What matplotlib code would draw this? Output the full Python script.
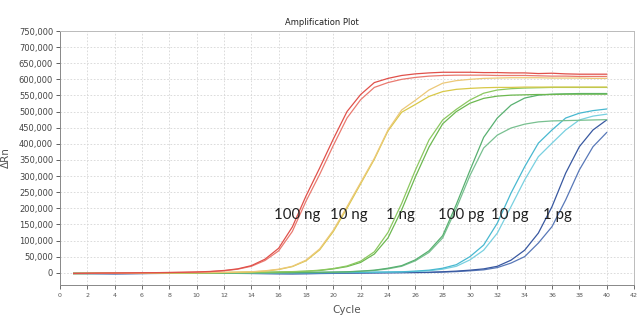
import numpy as np
import matplotlib
matplotlib.use("Agg")
import matplotlib.pyplot as plt
from matplotlib.ticker import FuncFormatter, MultipleLocator

# cycles and delta Rn (in thousands) for each well
cycles = np.arange(1, 41)

red_a = [-2, -1.5, -1, -0.8, -0.5, 0, 0.3, 0.8, 1.5, 2.5, 4, 7, 12, 22, 42, 76, 142, 238, 325, 415,
         500, 553, 590, 603, 612, 617, 620, 622, 622, 622, 621, 621, 620, 620, 618, 619, 617, 616, 616, 616]
red_b = [-2.5, -2, -1.5, -1, -0.6, -0.2, 0.2, 0.6, 1.2, 2, 3.5, 6, 11, 20, 38, 68, 128, 222, 305, 395,
         480, 537, 575, 590, 600, 606, 610, 612, 613, 613, 613, 612, 612, 612, 611, 610, 610, 609, 609, 609]
yel_a = [-2, -1.8, -1.5, -1.2, -1, -0.7, -0.5, -0.2, 0, 0.3, 0.7, 1.2, 2, 3, 6, 11, 20, 39, 74, 132,
         205, 280, 355, 443, 505, 535, 567, 588, 596, 600, 603, 604, 605, 605, 605, 604, 604, 604, 603, 603]
yel_b = [-2.5, -2.2, -1.8, -1.5, -1.2, -1, -0.7, -0.4, -0.2, 0, 0.4, 0.9, 1.6, 2.6, 5, 10, 19, 37, 71, 128,
         200, 276, 352, 440, 498, 522, 547, 562, 569, 572, 574, 575, 575, 576, 576, 576, 576, 576, 576, 576]
grn_a = [-2, -1.8, -1.6, -1.4, -1.2, -1, -0.8, -0.6, -0.4, -0.2, 0, 0.3, 0.6, 1, 1.5, 2.5, 3.5, 5, 8, 13,
         21, 36, 65, 125, 215, 318, 412, 474, 507, 536, 557, 567, 571, 573, 574, 575, 575, 575, 575, 575]
grn_b = [-2.5, -2.3, -2, -1.8, -1.5, -1.3, -1, -0.8, -0.6, -0.4, -0.2, 0, 0.3, 0.7, 1.2, 2, 3, 4.5, 7, 12,
         19, 32, 58, 108, 195, 297, 390, 462, 500, 526, 541, 548, 551, 552, 553, 553, 554, 554, 554, 554]
mgr_a = [-2, -2, -1.8, -1.6, -1.5, -1.3, -1.1, -1, -0.8, -0.6, -0.5, -0.3, -0.1, 0, 0.2, 0.4, 0.7, 1, 1.5, 2,
         3, 5, 8, 14, 22, 40, 68, 115, 212, 318, 420, 480, 520, 542, 551, 554, 555, 556, 556, 556]
mgr_b = [-2.5, -2.3, -2.1, -1.9, -1.7, -1.5, -1.3, -1.1, -0.9, -0.8, -0.6, -0.4, -0.2, -0.1, 0, 0.2, 0.5, 0.8, 1.2, 1.8,
         2.6, 4.5, 7, 12, 20, 37, 63, 108, 200, 302, 387, 427, 449, 461, 468, 471, 472, 473, 474, 475]
cyn_a = [-2, -2, -1.9, -1.8, -1.7, -1.5, -1.4, -1.2, -1.1, -1, -0.9, -0.8, -0.6, -0.5, -0.3, -0.2, 0, 0.2, 0.4, 0.6,
         0.9, 1.3, 1.8, 2.4, 3, 5, 8, 14, 25, 50, 86, 154, 247, 329, 402, 443, 480, 495, 503, 508]
cyn_b = [-2.5, -2.4, -2.3, -2.1, -2, -1.8, -1.6, -1.5, -1.3, -1.2, -1, -0.9, -0.8, -0.6, -0.5, -0.3, -0.1, 0, 0.2, 0.4,
         0.7, 1, 1.5, 2, 2.8, 4, 6, 11, 20, 40, 70, 123, 205, 288, 360, 402, 443, 474, 486, 492]
blu_a = [-2, -2.3, -2.6, -3, -2.6, -2.2, -1.8, -1.5, -1.2, -1, -1, -1.2, -1.6, -2, -2.4, -2.8, -3, -2.6, -2, -1.4,
         -0.8, -0.3, 0, 0.4, 0.8, 1, 1.5, 3, 5, 8, 12, 20, 39, 70, 123, 205, 309, 391, 443, 474]
blu_b = [-2.5, -2.8, -3.2, -3.5, -3.1, -2.7, -2.3, -1.9, -1.6, -1.4, -1.4, -1.6, -2, -2.4, -2.8, -3.2, -3.5, -3.1, -2.5, -2,
         -1.4, -1, -0.6, -0.3, 0, 0.4, 0.8, 2, 3.5, 6, 9, 16, 30, 50, 92, 143, 226, 319, 391, 435]

wells = [
    (blu_b, '#5878b8'), (blu_a, '#3858a0'),
    (cyn_b, '#78d0e0'), (cyn_a, '#48b8d0'),
    (mgr_b, '#78c090'), (mgr_a, '#58b070'),
    (grn_b, '#6cb850'), (grn_a, '#8cc860'),
    (yel_b, '#d8c848'), (yel_a, '#ecc878'),
    (red_b, '#ea7a70'), (red_a, '#e0504a'),
]

labels = ['100 ng', '10 ng', '1 ng', '100 pg', '10 pg', '1 pg']
label_x = [17.35, 21.1, 24.9, 29.35, 32.9, 36.4]
label_y = 166000

fig = plt.figure(figsize=(6.43, 3.26), dpi=100)
ax = fig.add_axes([0.0933, 0.1258, 0.8927, 0.7791])

for vals, col in wells:
    ax.plot(cycles, np.array(vals) * 1000, color=col, lw=0.9)

for lab, lx in zip(labels, label_x):
    ax.text(lx, label_y, lab, ha='center', va='baseline', fontsize=10.8,
            family='Lato', color='#222222')

ax.set_xlim(0, 42)
ax.set_ylim(-38000, 750000)
ax.xaxis.set_major_locator(MultipleLocator(2))
ax.yaxis.set_major_locator(MultipleLocator(50000))
ax.yaxis.set_major_formatter(FuncFormatter(lambda v, p: f'{int(v):,}'))
ax.tick_params(axis='x', labelsize=4.5, colors='#555555', length=3, width=0.6, pad=3)
ax.tick_params(axis='y', labelsize=6, colors='#444444', length=3, width=0.6, pad=2)

ax.grid(True, color='#d6d6d6', linestyle=(0, (2, 2)), lw=0.6)
ax.set_axisbelow(True)
for s in ['left', 'bottom']:
    ax.spines[s].set_color('#888888')
    ax.spines[s].set_linewidth(0.7)
for s in ['top', 'right']:
    ax.spines[s].set_color('#bbbbbb')
    ax.spines[s].set_linewidth(0.7)

ax.set_xlabel('Cycle', fontsize=7.5, color='#555555', labelpad=5)
ax.set_ylabel('ΔRn', fontsize=7.5, color='#555555', labelpad=6)
fig.text(0.5, 0.93, 'Amplification Plot', ha='center', va='center', fontsize=6, color='#222222')

fig.savefig('out.png', dpi=100)
